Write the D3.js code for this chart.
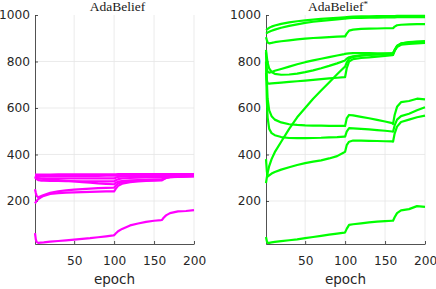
<!DOCTYPE html>
<html lang="en">
<head>
<meta charset="UTF-8">
<script src="https://d3js.org/d3.v7.min.js"></script>
<style>
  body { margin: 0; padding: 0; background: #fff; }
  svg { display: block; }
  .tick text { font-family: "DejaVu Sans", sans-serif; font-size: 12.2px; fill: #262626; }
  .axis path, .axis line { stroke: #262626; stroke-width: 0.8; }
  .grid line { stroke: #e6e6e6; stroke-width: 0.8; }
  .xlabel { font-family: "DejaVu Sans", sans-serif; font-size: 13.5px; fill: #262626; }
  .title { font-family: "Liberation Serif", serif; font-size: 13.5px; fill: #1a1a1a; }
</style>
</head>
<body>
<svg id="chart" width="436" height="289"></svg>
<script>
const epochs = [1, 2, 3, 5, 8, 12, 20, 30, 40, 50, 60, 70, 80, 90, 99, 100, 102, 105, 110, 120, 130, 140, 150, 159, 160, 162, 165, 170, 180, 190, 200];

const xTicks = [50, 100, 150, 200];
const yTicks = [200, 400, 600, 800, 1000];

// AdaBelief (magenta)
const adaBelief = [
  [314, 314, 314, 314, 314, 314, 314, 315, 315, 315, 315, 315, 315, 315, 315, 315, 315, 316, 316, 316, 316, 316, 316, 316, 316, 316, 316, 316, 316, 316, 316],
  [309, 308, 308, 308, 308, 308, 308, 308, 308, 308, 308, 308, 308, 309, 309, 309, 309, 310, 310, 311, 311, 311, 311, 311, 311, 312, 312, 312, 312, 312, 312],
  [306, 303, 300, 298, 297, 297, 297, 297, 297, 297, 297, 297, 297, 297, 297, 297, 300, 304, 306, 307, 307, 308, 308, 308, 308, 309, 309, 310, 310, 310, 311],
  [303, 298, 294, 290, 288, 287, 286, 286, 285, 285, 285, 285, 284, 284, 284, 284, 289, 294, 297, 299, 300, 301, 302, 302, 302, 304, 306, 307, 308, 308, 309],
  [300, 299, 298, 297, 296, 295, 292, 290, 287, 284, 281, 279, 276, 274, 272, 272, 278, 283, 286, 289, 290, 291, 292, 292, 293, 297, 301, 304, 306, 307, 308],
  [250, 235, 222, 216, 220, 226, 235, 242, 246, 249, 251, 253, 255, 256, 257, 257, 266, 275, 281, 285, 287, 289, 290, 291, 291, 295, 300, 303, 305, 306, 307],
  [190, 195, 200, 208, 215, 222, 230, 234, 236, 237, 238, 239, 240, 241, 241, 241, 252, 265, 274, 281, 284, 286, 288, 289, 289, 293, 299, 302, 304, 305, 306],
  [62, 35, 24, 20, 21, 22, 25, 28, 31, 34, 37, 40, 44, 48, 52, 53, 60, 70, 80, 95, 103, 110, 115, 118, 119, 128, 138, 148, 155, 157, 161]
];

// AdaBelief* (green)
const adaBeliefStar = [
  [935, 937, 940, 945, 950, 955, 962, 968, 973, 977, 980, 983, 986, 988, 990, 990, 991, 992, 993, 994, 994, 995, 995, 995, 995, 995, 996, 996, 996, 996, 996],
  [920, 922, 925, 928, 932, 937, 945, 953, 960, 966, 971, 975, 978, 981, 984, 984, 985, 986, 987, 988, 989, 989, 990, 990, 990, 990, 991, 991, 991, 991, 991],
  [905, 893, 882, 878, 880, 883, 887, 891, 895, 898, 901, 903, 905, 907, 908, 908, 920, 933, 937, 940, 941, 942, 943, 943, 943, 950, 956, 958, 960, 961, 961],
  [790, 770, 756, 752, 755, 760, 768, 778, 788, 797, 805, 812, 819, 826, 832, 833, 834, 835, 836, 836, 836, 835, 835, 835, 835, 850, 868, 878, 882, 884, 885],
  [850, 820, 795, 770, 755, 747, 743, 744, 748, 754, 762, 771, 781, 792, 803, 805, 812, 818, 822, 826, 829, 831, 833, 834, 834, 848, 865, 875, 880, 882, 884],
  [750, 720, 706, 705, 706, 707, 709, 712, 715, 718, 721, 724, 727, 730, 733, 733, 770, 800, 810, 815, 818, 821, 824, 827, 828, 845, 865, 877, 883, 886, 888],
  [277, 300, 320, 350, 380, 410, 455, 510, 560, 600, 640, 675, 710, 745, 775, 778, 795, 812, 820, 825, 828, 830, 832, 834, 835, 848, 862, 872, 876, 878, 880],
  [840, 720, 640, 590, 565, 550, 538, 530, 527, 525, 524, 524, 523, 523, 523, 523, 555, 570, 568, 562, 556, 549, 542, 535, 531, 570, 605, 625, 630, 640, 637],
  [800, 640, 560, 510, 492, 483, 475, 471, 470, 470, 471, 472, 474, 475, 477, 477, 498, 513, 512, 510, 508, 505, 502, 499, 498, 525, 550, 565, 575, 590, 603],
  [380, 330, 305, 310, 318, 325, 335, 345, 355, 363, 369, 375, 383, 393, 410, 412, 440, 455, 460, 460, 459, 458, 457, 456, 455, 490, 520, 540, 550, 560, 567],
  [45, 28, 20, 20, 22, 24, 27, 31, 35, 40, 45, 50, 55, 60, 64, 65, 80, 97, 100, 104, 108, 111, 113, 115, 115, 130, 148, 160, 165, 178, 175]
];

const svg = d3.select("#chart");
const yTop = 15, yBottom = 244;

const panels = [
  { x0: 35, x1: 194, series: adaBelief, color: "#ff00ff", title: "AdaBelief", star: false, tx: 117.5 },
  { x0: 266, x1: 425, series: adaBeliefStar, color: "#00ff00", title: "AdaBelief", star: true, tx: 338 }
];

const y = d3.scaleLinear().domain([15, 1000]).range([yBottom, yTop]);

panels.forEach(p => {
  const x = d3.scaleLinear().domain([1, 200]).range([p.x0, p.x1]);
  const g = svg.append("g");

  // grid
  const grid = g.append("g").attr("class", "grid");
  grid.selectAll("line.v").data(xTicks).enter().append("line")
    .attr("x1", d => x(d)).attr("x2", d => x(d))
    .attr("y1", yTop).attr("y2", yBottom);
  grid.selectAll("line.h").data(yTicks.filter(d => d < 1000)).enter().append("line")
    .attr("x1", p.x0).attr("x2", p.x1)
    .attr("y1", d => y(d)).attr("y2", d => y(d));

  // axes
  g.append("g").attr("class", "axis")
    .attr("transform", `translate(${p.x0},0)`)
    .call(d3.axisLeft(y).tickValues(yTicks).tickFormat(d3.format("d"))
      .tickSizeInner(-3).tickSizeOuter(0).tickPadding(5));
  g.append("g").attr("class", "axis")
    .attr("transform", `translate(0,${yBottom})`)
    .call(d3.axisBottom(x).tickValues(xTicks).tickFormat(d3.format("d"))
      .tickSizeInner(-3).tickSizeOuter(0).tickPadding(12));

  // curves
  const line = d3.line().x((d, i) => x(epochs[i])).y(d => y(d));
  g.append("g").selectAll("path").data(p.series).enter().append("path")
    .attr("d", line)
    .attr("fill", "none")
    .attr("stroke", p.color)
    .attr("stroke-width", 2.2)
    .attr("stroke-linejoin", "round");

  // labels
  g.append("text").attr("class", "xlabel")
    .attr("x", (p.x0 + p.x1) / 2).attr("y", 284)
    .attr("text-anchor", "middle").text("epoch");

  const t = g.append("text").attr("class", "title")
    .attr("x", p.tx).attr("y", 11).attr("text-anchor", "middle")
    .text(p.title);
  if (p.star) {
    t.append("tspan").attr("dy", -4).attr("font-size", "9px").text("*");
  }
});
</script>
</body>
</html>
